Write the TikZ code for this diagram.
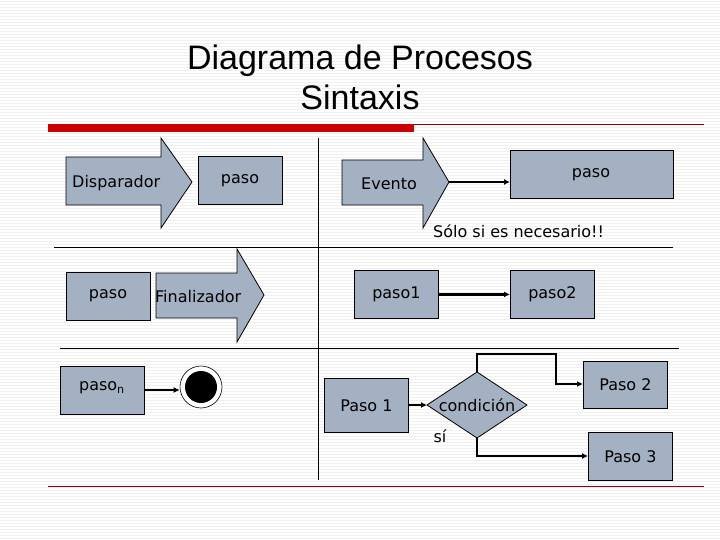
\documentclass[tikz,border=0pt]{standalone}
\usepackage{fontspec}
\setmainfont{DejaVu Sans}
\newfontfamily\titlefont{Liberation Sans}
\usetikzlibrary{shapes.geometric,arrows.meta}
\definecolor{boxfill}{HTML}{A3B1C2}
\definecolor{redbar}{HTML}{CC0000}
\tikzset{
  stepbox/.style={draw=black,fill=boxfill,line width=0.8pt},
  lbl/.style={font=\fontsize{16}{18}\selectfont,inner sep=0pt},
  conn/.style={line width=2.4pt,-{Latex[length=6pt,width=6pt]}},
  grid/.style={line width=0.8pt,black}
}
\begin{document}
\begin{tikzpicture}[x=1pt,y=-1pt]
\useasboundingbox (0,0) rectangle (720,540);
\fill[white] (0,0) rectangle (720,540);
\foreach \yy in {1,4,...,540} \draw[black!6,line width=0.6pt] (0,\yy) -- (720,\yy);
% title
\node[font=\titlefont\fontsize{34}{40}\selectfont,align=center] (title) at (360,77) {Diagrama de Procesos\\Sintaxis};
\fill[redbar] (48,124) rectangle (414,132);
\draw[redbar!70!black,line width=0.6pt] (414,124.5) -- (704,124.5);
\draw[redbar!70!black,line width=0.6pt] (48,486.5) -- (704,486.5);
% grid
\draw[grid] (54,247) -- (673,247);
\draw[grid] (60,348) -- (679,348);
\draw[grid] (318,138) -- (318,480);
% Disparador
\draw[stepbox] (66,157) -- (161,157) -- (161,138) -- (192,182) -- (161,228) -- (161,205) -- (66,205) -- cycle;
\node[lbl,anchor=west] (disp) at (72,183) {Disparador};
\node[stepbox,minimum width=84pt,minimum height=48pt,anchor=north west] (p1) at (198,156) {};
\node[lbl] (p1t) at (240,181) {paso};
% row 2
\node[stepbox,minimum width=84pt,minimum height=48pt,anchor=north west] (p2) at (66,272) {};
\node[lbl] (p2t) at (108,296) {paso};
\draw[stepbox] (156,273) -- (237,273) -- (237,249) -- (264,295) -- (237,342) -- (237,318) -- (156,318) -- cycle;
\node[lbl,anchor=west] (fin) at (155,297) {Finalizador};
% row 3
\node[stepbox,minimum width=84pt,minimum height=48pt,anchor=north west] (pn) at (60,366) {};
\node[lbl] (pnt) at (102,388) {paso\textsubscript{n}};
\node[circle,draw=black,fill=white,line width=0.6pt,minimum size=42pt,inner sep=0pt] (endc) at (201,387) {};
\node[circle,fill=black,minimum size=32pt,inner sep=0pt] (endi) at (201,387) {};
\draw[conn] (pn.east |- 0,390) -- (endc.west |- 0,390);
% Evento
\draw[stepbox] (342,160) -- (423,160) -- (423,138) -- (449,182) -- (423,228) -- (423,205) -- (342,205) -- cycle;
\coordinate (evtip) at (449,182);
\node[lbl] (ev) at (389,184) {Evento};
\node[stepbox,minimum width=163pt,minimum height=48pt,anchor=north west] (pe) at (510,150) {};
\node[lbl] (pet) at (591,175) {paso};
\draw[conn] (evtip) -- (pe.west |- evtip);
\node[lbl,anchor=west] (solo) at (433,231) {Sólo si es necesario!!};
% paso1 paso2
\node[stepbox,minimum width=84pt,minimum height=48pt,anchor=north west,lbl] (pa) at (354,270) {paso1};
\node[stepbox,minimum width=84pt,minimum height=48pt,anchor=north west,lbl] (pb) at (510,270) {paso2};
\draw[conn] (pa) -- (pb);
% decision
\node[stepbox,minimum width=84pt,minimum height=54pt,anchor=north west,lbl] (q1) at (324,378) {Paso 1};
\draw[stepbox] (427,405) -- (477,372) -- (527,405) -- (477,438) -- cycle;
\coordinate (dl) at (427,405); \coordinate (dt) at (477,372); \coordinate (db) at (477,438);
\node[lbl] (cond) at (477,405) {condición};
\node[stepbox,minimum width=84pt,minimum height=47pt,anchor=north west,lbl] (q2) at (583,361) {Paso 2};
\node[stepbox,minimum width=84pt,minimum height=48pt,anchor=north west,lbl] (q3) at (588,432) {Paso 3};
\draw[conn] (q1.east |- dl) -- (dl);
\draw[conn] (dt) -- (477,354) -- (556,354) -- (556,384) -- (q2.west |- 0,384);
\draw[conn] (db) -- (477,456) -- (q3.west |- 0,456);
\node[lbl] (si) at (440,436) {sí};
\end{tikzpicture}
\end{document}
